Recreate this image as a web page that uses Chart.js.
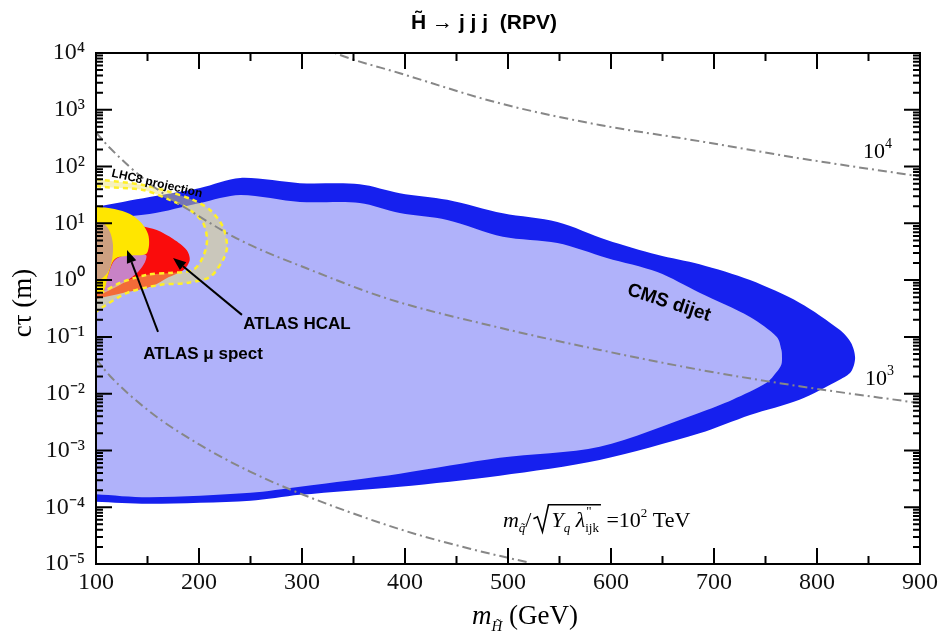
<!DOCTYPE html>
<html>
<head>
<meta charset="utf-8">
<script src="https://cdn.jsdelivr.net/npm/chart.js@4.4.1/dist/chart.umd.min.js"></script>
<style>
  html, body { margin: 0; padding: 0; background: #fff; }
  #wrap { width: 941px; height: 635px; }
</style>
</head>
<body>
<div id="wrap"><canvas id="chart" width="941" height="635"></canvas></div>
<script>
// axis ticks
const xTicks = [100, 200, 300, 400, 500, 600, 700, 800, 900];
const yTicks = [1e-5, 1e-4, 1e-3, 1e-2, 1e-1, 1, 10, 100, 1000, 10000];
const yTickLabels = ['10⁻⁵', '10⁻⁴', '10⁻³', '10⁻²', '10⁻¹', '10⁰', '10¹', '10²', '10³', '10⁴'];

// CMS dijet: outer and inner edge of the band (m in GeV, c tau in m)
const cmsOuterX = [100, 152, 201, 240, 298, 356, 395, 441, 495, 548, 596, 645, 686, 735, 783, 822, 833, 837, 833, 822, 783, 735, 686, 589, 492, 395, 298, 250, 152, 100];
const cmsOuterY = [19.5, 29, 42, 63, 51, 49, 34, 26, 15, 10.6, 5.1, 2.8, 1.9, 1.0, 0.40, 0.133, 0.079, 0.043, 0.0242, 0.0175, 0.0078, 0.0042, 0.0020, 6.8e-4, 3.6e-4, 2.3e-4, 1.65e-4, 1.3e-4, 1.15e-4, 1.25e-4];
const cmsInnerX = [100, 152, 201, 240, 298, 356, 395, 441, 495, 548, 596, 645, 686, 735, 761, 765.5, 766, 765.5, 761, 751, 718, 686, 589, 492, 395, 298, 250, 152, 100];
const cmsInnerY = [12, 14.6, 22.9, 31.6, 23.8, 22.9, 15.2, 11.5, 5.8, 4.5, 2.46, 1.39, 0.6, 0.225, 0.1, 0.059, 0.0445, 0.033, 0.0242, 0.0155, 0.0078, 0.0046, 1.16e-3, 7.4e-4, 3.9e-4, 2.3e-4, 1.8e-4, 1.5e-4, 1.7e-4];

// ATLAS HCAL
const hcalX = [100, 123, 143, 159, 175, 188, 191, 185, 169, 155, 126, 100];
const hcalY = [10.6, 10.6, 9.0, 7.65, 5.3, 3.4, 2.27, 1.51, 1.09, 0.79, 0.595, 0.467];

// ATLAS mu spectrometer and the overlap patches
const muX = [100, 118, 133, 144, 150.5, 151.5, 148.5, 133, 118.4, 111.7, 107.8, 100];
const muY = [19.5, 17.9, 14.6, 10.2, 6.5, 4.17, 2.89, 2.7, 2.36, 1.24, 0.67, 0.596];
const mauveX = [107.8, 111.7, 118.4, 133, 148.5, 147.6, 140.8, 128.2, 115.5, 107.8];
const mauveY = [0.671, 1.24, 2.27, 2.89, 2.78, 2.09, 1.39, 0.93, 0.70, 0.596];
const tanX = [100, 107.8, 113.6, 116.5, 115.5, 111.7, 103.9, 100];
const tanY = [10.6, 9.75, 7.06, 4.17, 2.27, 1.39, 1.01, 0.97];

// LHC8 projection band
const lhcOuterX = [100, 106.8, 145.6, 171.8, 194.2, 210.7, 223.3, 227.2, 223.3, 210.7, 188.3, 162.1, 130.1, 106.8, 100];
const lhcOuterY = [60.5, 58.1, 47.4, 35.7, 25.8, 17.2, 8.65, 3.85, 2.27, 1.14, 0.893, 0.823, 0.596, 0.337, 0.275];
const lhcInnerX = [100, 106.8, 145.6, 171.8, 191.3, 203.9, 207.8, 203.9, 194.2, 171.8, 149.5, 123.3, 106.8, 100];
const lhcInnerY = [45.5, 43.7, 38.7, 25.8, 17.2, 10.2, 5.1, 2.56, 1.51, 1.34, 1.24, 0.893, 0.62, 0.548];

// contours of m_q / sqrt(Y_q lambda'') = 10^4, 10^3, 10^2 TeV
const c4X = [320, 337, 395, 492, 589, 686, 783, 900];
const c4Y = [12500, 9200, 4400, 1300, 540, 280, 140, 67];
const c3X = [100, 113.6, 150, 201, 240, 305, 385, 492, 589, 686, 783, 900];
const c3Y = [398, 212, 53.6, 13.0, 5.05, 1.6, 0.46, 0.145, 0.059, 0.0264, 0.0135, 0.0068];
const c2X = [100, 113.6, 152.4, 201, 249.5, 298, 395, 463, 521];
const c2Y = [0.0407, 0.0205, 0.0048, 1.25e-3, 4.25e-4, 1.75e-4, 4.1e-5, 1.86e-5, 1.05e-5];

const serif = "'Liberation Serif', 'Times New Roman', serif";
const sans = "'Liberation Sans', Arial, sans-serif";

function pts(xs, ys) {
    return xs.map((x, i) => ({ x: x, y: ys[i] }));
}

function area(data, color, order) {
    return {
        data: data, showLine: true, fill: 'shape', backgroundColor: color,
        borderWidth: 0, borderColor: 'transparent', pointRadius: 0, tension: 0.3, order: order
    };
}

function curve(data, color, dash, width, order, mode) {
    return {
        data: data, showLine: true, fill: false, borderColor: color, borderWidth: width,
        borderDash: dash, pointRadius: 0, tension: 0.3, cubicInterpolationMode: mode || 'default', order: order
    };
}

// text pieces with sub/superscripts: [text, font, dy]
function drawPieces(ctx, pieces, x0, yb) {
    let cx = x0;
    pieces.forEach(function (p) {
        ctx.font = p[1];
        ctx.fillText(p[0], cx, yb + (p[2] || 0));
        cx += ctx.measureText(p[0]).width;
    });
    return cx;
}

function piecesWidth(ctx, pieces) {
    let w = 0;
    pieces.forEach(function (p) { ctx.font = p[1]; w += ctx.measureText(p[0]).width; });
    return w;
}

function arrow(ctx, x1, y1, x2, y2) {
    const ang = Math.atan2(y2 - y1, x2 - x1);
    const len = 13, half = 5;
    const bx = x2 - len * Math.cos(ang), by = y2 - len * Math.sin(ang);
    ctx.beginPath();
    ctx.moveTo(x1, y1);
    ctx.lineTo(bx, by);
    ctx.stroke();
    ctx.beginPath();
    ctx.moveTo(x2, y2);
    ctx.lineTo(bx + half * Math.sin(ang), by - half * Math.cos(ang));
    ctx.lineTo(bx - half * Math.sin(ang), by + half * Math.cos(ang));
    ctx.closePath();
    ctx.fill();
}

const decor = {
    id: 'decor',
    afterDatasetsDraw(chart) {
        const { ctx, chartArea: a, scales: { x, y } } = chart;
        const px = v => x.getPixelForValue(v);
        const py = v => y.getPixelForValue(v);
        ctx.save();

        // inside ticks on all four sides
        ctx.strokeStyle = '#000';
        ctx.lineWidth = 2;
        ctx.beginPath();
        xTicks.forEach(function (v, i) {
            const p = px(v);
            ctx.moveTo(p, a.bottom); ctx.lineTo(p, a.bottom - 16);
            ctx.moveTo(p, a.top); ctx.lineTo(p, a.top + 16);
            if (i < xTicks.length - 1) {
                const m = px(v + 50);
                ctx.moveTo(m, a.bottom); ctx.lineTo(m, a.bottom - 8);
                ctx.moveTo(m, a.top); ctx.lineTo(m, a.top + 8);
            }
        });
        yTicks.forEach(function (v, i) {
            const p = py(v);
            ctx.moveTo(a.left, p); ctx.lineTo(a.left + 16, p);
            ctx.moveTo(a.right, p); ctx.lineTo(a.right - 16, p);
            if (i < yTicks.length - 1) {
                for (let k = 2; k <= 9; k++) {
                    const m = py(v * k);
                    ctx.moveTo(a.left, m); ctx.lineTo(a.left + 7, m);
                    ctx.moveTo(a.right, m); ctx.lineTo(a.right - 7, m);
                }
            }
        });
        ctx.stroke();
        ctx.strokeRect(a.left, a.top, a.right - a.left, a.bottom - a.top);

        ctx.fillStyle = '#000';
        ctx.textBaseline = 'alphabetic';

        // title
        ctx.font = "bold 21px 'Liberation Sans Narrow', " + sans;
        ctx.textAlign = 'center';
        ctx.fillText('H\u0303 \u2192 j j j  (RPV)', 484, 29);

        // axis titles
        ctx.textAlign = 'left';
        const xt = [['m', 'italic 27px ' + serif], ['H\u0303', 'italic 15px ' + serif, 7], [' (GeV)', '27px ' + serif]];
        drawPieces(ctx, xt, 525 - piecesWidth(ctx, xt) / 2, 624);
        ctx.save();
        ctx.translate(31, 303);
        ctx.rotate(-Math.PI / 2);
        ctx.font = '27px ' + serif;
        ctx.textAlign = 'center';
        ctx.fillText('c\u03c4 (m)', 0, 0);
        ctx.restore();

        // contour labels
        ctx.textAlign = 'left';
        drawPieces(ctx, [['10', '22px ' + serif], ['4', '14px ' + serif, -10]], px(844.7), py(141.6));
        drawPieces(ctx, [['10', '22px ' + serif], ['3', '14px ' + serif, -10]], px(846.6), py(0.0143));

        // formula
        const fx = px(495.1), fy = py(4.52e-5);
        let cx = drawPieces(ctx, [['m', 'italic 22px ' + serif], ['q\u0303', 'italic 13px ' + serif, 5], ['/', '22px ' + serif]], fx, fy);
        const rs = cx + 2;
        ctx.lineWidth = 1.6;
        ctx.beginPath();
        ctx.moveTo(rs, fy - 8); ctx.lineTo(rs + 4, fy - 10); ctx.lineTo(rs + 9, fy + 5); ctx.lineTo(rs + 15, fy - 22);
        cx = drawPieces(ctx, [['Y', 'italic 22px ' + serif], ['q', 'italic 13px ' + serif, 5], [' \u03bb', 'italic 22px ' + serif]], rs + 18, fy);
        drawPieces(ctx, [['"', '13px ' + serif]], cx + 1, fy - 12);
        cx = drawPieces(ctx, [['ijk', '13px ' + serif]], cx, fy + 5);
        ctx.lineTo(cx + 2, fy - 22);
        ctx.stroke();
        drawPieces(ctx, [[' =10', '22px ' + serif], ['2', '13px ' + serif, -10], [' TeV', '22px ' + serif]], cx + 2, fy);

        // region labels
        ctx.textAlign = 'center';
        ctx.textBaseline = 'middle';
        ctx.font = 'bold 17px ' + sans;
        ctx.fillText('ATLAS \u03bc spect', px(203.9), py(0.0502));
        ctx.fillText('ATLAS HCAL', px(295.1), py(0.1694));

        ctx.save();
        ctx.translate(px(656.3), py(0.397));
        ctx.rotate(18 * Math.PI / 180);
        ctx.font = 'bold 19px ' + sans;
        ctx.fillText('CMS dijet', 0, 0);
        ctx.restore();

        ctx.save();
        ctx.translate(px(159.2), py(50));
        ctx.rotate(13 * Math.PI / 180);
        ctx.font = 'bold 12px ' + sans;
        ctx.fillText('LHC8 projection', 0, 0);
        ctx.restore();

        // arrows
        ctx.lineWidth = 2;
        arrow(ctx, px(160.2), py(0.1225), px(130.1), py(3.4));
        arrow(ctx, px(241.7), py(0.244), px(174.8), py(2.46));

        ctx.restore();
    }
};

window.addEventListener('load', function () {
    const lhcBand = pts(lhcOuterX, lhcOuterY).concat(pts(lhcInnerX, lhcInnerY).reverse());
    const dashDot = [9, 4, 2, 4];
    const grey = 'rgb(135,135,135)';

    new Chart(document.getElementById('chart'), {
        type: 'scatter',
        data: {
            datasets: [
                curve(pts(c4X, c4Y), grey, dashDot, 2, 0, 'monotone'),
                curve(pts(c3X, c3Y), grey, dashDot, 2, 0, 'monotone'),
                curve(pts(c2X, c2Y), grey, dashDot, 2, 0, 'monotone'),
                curve(pts(lhcOuterX, lhcOuterY), 'rgb(255,240,40)', [5, 4], 2.5, 1),
                curve(pts(lhcInnerX, lhcInnerY), 'rgb(255,240,40)', [5, 4], 2.5, 1),
                area(lhcBand, 'rgba(235,225,110,0.45)', 2),
                area(pts(tanX, tanY), 'rgb(205,160,128)', 3),
                area(pts(muX, muY), 'rgb(255,230,0)', 4),
                area(pts(mauveX, mauveY), 'rgb(200,130,198)', 5),
                area(pts(hcalX, hcalY), 'rgb(250,12,12)', 6),
                area(pts(cmsInnerX, cmsInnerY), 'rgb(176,178,250)', 7),
                area(pts(cmsOuterX, cmsOuterY), 'rgb(22,32,238)', 8)
            ]
        },
        options: {
            responsive: false,
            animation: false,
            devicePixelRatio: 1,
            events: [],
            layout: { padding: { top: 53, right: 21, left: 0, bottom: 0 } },
            plugins: { legend: { display: false }, tooltip: { enabled: false }, title: { display: false } },
            scales: {
                x: {
                    type: 'linear', min: 100, max: 900,
                    afterBuildTicks: function (s) { s.ticks = xTicks.map(v => ({ value: v })); },
                    afterFit: function (s) { s.height = 71; },
                    grid: { display: false }, border: { display: false },
                    ticks: { autoSkip: false, maxRotation: 0, padding: -4, color: '#111', font: { family: serif, size: 24 } }
                },
                y: {
                    type: 'logarithmic', min: 1e-5, max: 1e4,
                    afterBuildTicks: function (s) { s.ticks = yTicks.map(v => ({ value: v })); },
                    afterFit: function (s) { s.width = 96; },
                    grid: { display: false }, border: { display: false },
                    ticks: {
                        autoSkip: false, padding: 3, color: '#111', font: { family: serif, size: 24 },
                        callback: function (value, index) { return yTickLabels[index]; }
                    }
                }
            }
        },
        plugins: [decor]
    });
});
</script>
</body>
</html>
